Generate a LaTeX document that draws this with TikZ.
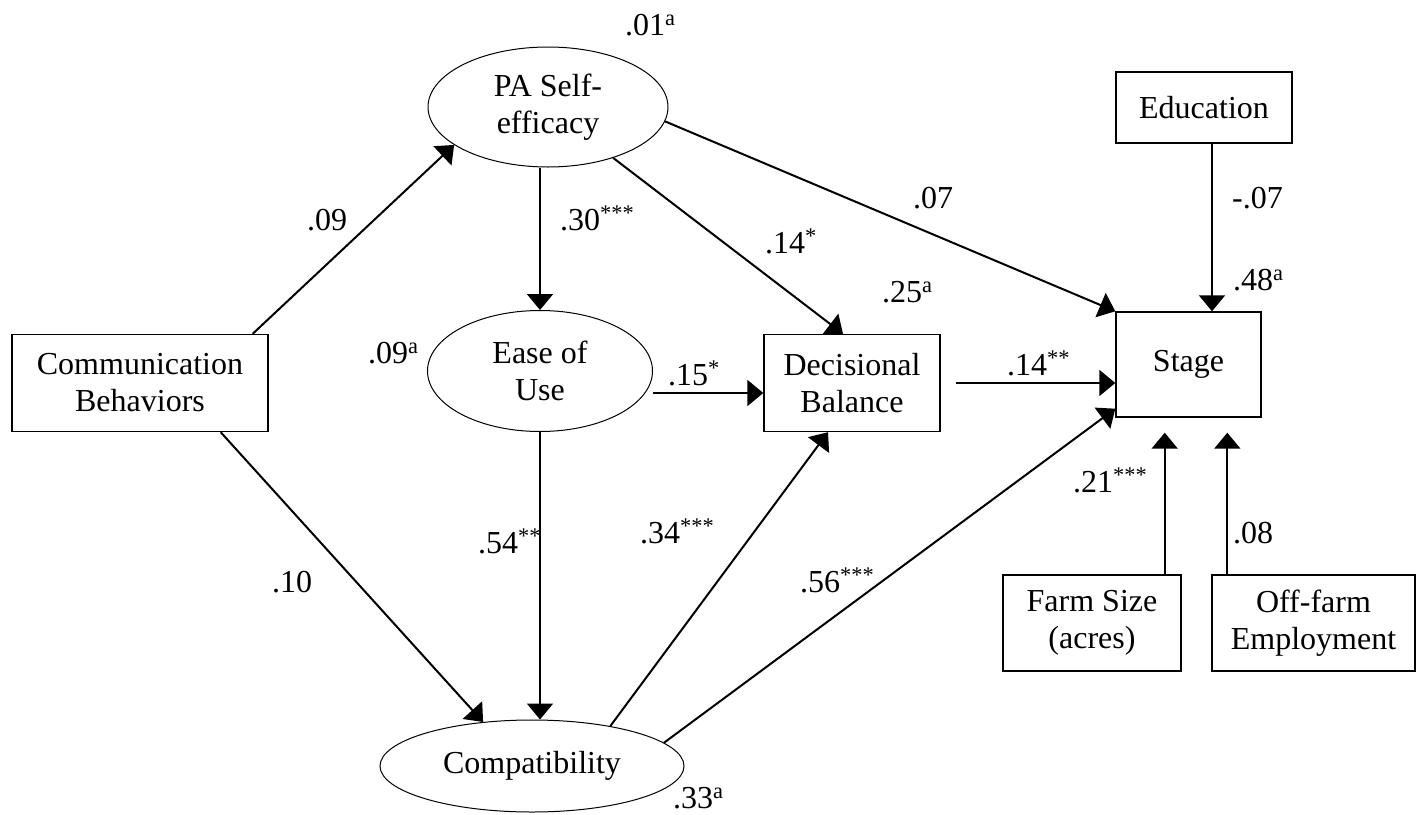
\documentclass[tikz,border=0pt]{standalone}
\usepackage{fontspec}
\setmainfont{Liberation Serif}
\usetikzlibrary{shapes.geometric,arrows.meta,calc}
\begin{document}
\begin{tikzpicture}[x=1pt,y=-1pt,
  every node/.style={font=\fontsize{32}{37}\selectfont},
  latent/.style={ellipse,draw,line width=1pt,align=center,inner sep=0pt},
  observed/.style={rectangle,draw,line width=1.4pt,align=center,inner sep=0pt},
  effect/.style={line width=2pt,-{Triangle[length=16pt,width=26pt]}},
  coef/.style={anchor=base west,inner sep=0pt}]
\useasboundingbox (0,0) rectangle (1416,814);

% latent constructs
\node[latent,minimum width=240pt,minimum height=120pt] (pa) at (548,107) {PA Self-\\efficacy};
\node[latent,minimum width=225pt,minimum height=121pt] (ease) at (540,371) {Ease of\\Use};
\node[latent,minimum width=304pt,minimum height=92pt] (comp) at (532,766) {Compatibility};

% observed variables
\node[observed,minimum width=256pt,minimum height=97pt] (comm) at (140,383) {Communication\\Behaviors};
\node[observed,minimum width=176pt,minimum height=97pt] (db) at (852,383) {Decisional\\Balance};
\node[observed,minimum width=145pt,minimum height=105pt] (stage) at (1188.5,364.5) {Stage};
\node[observed,minimum width=176pt,minimum height=71pt] (edu) at (1204,107.5) {Education};
\node[observed,minimum width=178pt,minimum height=96pt] (farm) at (1092,623) {Farm Size\\(acres)};
\node[observed,minimum width=203pt,minimum height=96pt] (off) at (1313.5,623) {Off-farm\\Employment};

% structural paths
\draw[effect] ($(comm.north east)+(-16,0)$) -- (pa.202);
\draw[effect] ($(comm.south east)+(-48,0)$) -- (comp.138.8);
\draw[effect] (pa.south -| ease.north) -- (ease.north);
\draw[effect] (pa.-38) -- ($(db.north)+(-9,0)$);
\draw[effect] (pa.-7) -- (stage.north west);
\coordinate (e1) at ($(ease.east)+(0,22)$);
\draw[effect] (e1) -- (e1 -| db.west);
\draw[effect] (ease.south) -- (ease.south |- comp.north);
\draw[effect,shorten <=15pt] (db.east) -- (stage.west |- db.east);
\draw[effect] (comp.27.5) -- ($(db.south)+(-24,0)$);
\draw[effect] (comp.10) -- ($(stage.south west)+(0,-9)$);

% covariate paths
\coordinate (edout) at ($(edu.south)+(8,0)$);
\draw[effect] (edout) -- (edout |- stage.north);
\coordinate (fout) at ($(farm.north east)+(-17,0)$);
\draw[effect,shorten >=15pt] (fout) -- (fout |- stage.south);
\coordinate (oout) at ($(off.north west)+(16,0)$);
\draw[effect,shorten >=15pt] (oout) -- (oout |- stage.south);

% coefficients and explained variance
\node[coef] (r1) at (625,35) {.01\textsuperscript{a}};
\node[coef] (c1) at (307,230) {.09};
\node[coef] (c2) at (560,230) {.30\textsuperscript{***}};
\node[coef] (c3) at (913,208) {.07};
\node[coef] (c4) at (765,253) {.14\textsuperscript{*}};
\node[coef] (r2) at (882,302) {.25\textsuperscript{a}};
\node[coef] (c5) at (1232,208) {-.07};
\node[coef] (r3) at (1233,290) {.48\textsuperscript{a}};
\node[coef] (r4) at (368,363) {.09\textsuperscript{a}};
\node[coef] (c6) at (668,385) {.15\textsuperscript{*}};
\node[coef] (c7) at (1007,375) {.14\textsuperscript{**}};
\node[coef] (c8) at (478,553) {.54\textsuperscript{**}};
\node[coef] (c9) at (640,543) {.34\textsuperscript{***}};
\node[coef] (c10) at (800,592) {.56\textsuperscript{***}};
\node[coef] (c11) at (1073,492) {.21\textsuperscript{***}};
\node[coef] (c12) at (1233,543) {.08};
\node[coef] (c13) at (272,592) {.10};
\node[coef] (r5) at (673,808) {.33\textsuperscript{a}};
\end{tikzpicture}
\end{document}
